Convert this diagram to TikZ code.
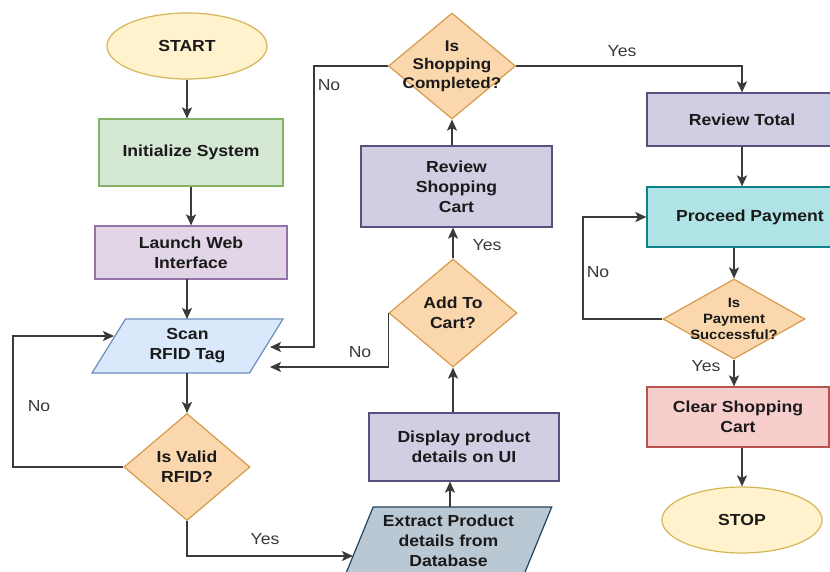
\documentclass[tikz,border=0pt]{standalone}
\usepackage{fontspec}
\setmainfont[FakeStretch=1.1]{Liberation Sans}
\usetikzlibrary{shapes.geometric,arrows.meta}
\definecolor{txt}{HTML}{1A1A1A}
\definecolor{lbl}{HTML}{3A3A3A}
\definecolor{ln}{HTML}{3A3A3A}
\definecolor{yelF}{HTML}{FFF2CC}\definecolor{yelD}{HTML}{D6B656}
\definecolor{grnF}{HTML}{D5E8D4}\definecolor{grnD}{HTML}{82B366}
\definecolor{pinF}{HTML}{E1D5E7}\definecolor{pinD}{HTML}{9673A6}
\definecolor{bluF}{HTML}{DAE8FC}\definecolor{bluD}{HTML}{6C8EBF}
\definecolor{orgF}{HTML}{FAD7AC}\definecolor{orgD}{HTML}{D79B4A}
\definecolor{purF}{HTML}{D0CEE2}\definecolor{purD}{HTML}{56517E}
\definecolor{cyaF}{HTML}{B0E3E6}\definecolor{cyaD}{HTML}{0E8088}
\definecolor{redF}{HTML}{F8CECC}\definecolor{redD}{HTML}{B85450}
\definecolor{gryF}{HTML}{BAC8D3}\definecolor{gryD}{HTML}{23445D}
\tikzset{
  base/.style={line width=1.2pt, text=txt, align=center, inner sep=0pt,
    font=\fontsize{16}{20}\selectfont\bfseries},
  term/.style={base, ellipse, fill=yelF, draw=yelD, minimum width=160, minimum height=66},
  box/.style={base, rectangle},
  para/.style={base, trapezium, trapezium stretches=true},
  dia/.style={base, diamond, fill=orgF, draw=orgD},
  arr/.style={line width=1.4pt, draw=ln, -{Stealth[length=11pt,width=10pt,inset=2.5pt]}},
  lab/.style={text=lbl, font=\fontsize{16}{19}\selectfont, inner sep=0pt}
}
\begin{document}
\begin{tikzpicture}[x=1pt,y=-1pt]
\useasboundingbox[fill=white] (0,0) rectangle (830,571);
% nodes
\node[term] (start) at (187,46) {START};
\node[box, fill=grnF, draw=grnD, minimum width=184, minimum height=67] (init) at (191,152.5) {Initialize System};
\node[box, fill=pinF, draw=pinD, minimum width=192, minimum height=53] (web) at (191,252.5) {Launch Web\\Interface};
\node[para, fill=bluF, draw=bluD, minimum width=191, minimum height=54,
  trapezium left angle=59.3, trapezium right angle=120.7] (scan) at (187.5,346) {Scan\\RFID Tag};
\node[dia, minimum width=126, minimum height=107,
  label={[base, font=\fontsize{16}{20}\selectfont\bfseries, text=txt]center:{Is Valid\\RFID?}}] (valid) at (187,467) {};
\node[para, fill=gryF, draw=gryD, minimum width=207, minimum height=68,
  trapezium left angle=64.9, trapezium right angle=115.1] (ext) at (448.5,541) {Extract Product\\details from\\Database};
\node[box, fill=purF, draw=purD, minimum width=190, minimum height=68] (disp) at (464,447) {Display product\\details on UI};
\node[dia, minimum width=128, minimum height=108,
  label={[base, font=\fontsize{16}{20}\selectfont\bfseries, text=txt]center:{Add To\\Cart?}}] (add) at (453,313) {};
\node[box, fill=purF, draw=purD, minimum width=191, minimum height=81] (rsc) at (456.5,186.5) {Review\\Shopping\\Cart};
\node[dia, minimum width=127, minimum height=106,
  label={[base, font=\fontsize{15.5}{18.5}\selectfont\bfseries, text=txt]center:{Is\\Shopping\\Completed?}}] (isc) at (452,66) {};
\node[box, fill=purF, draw=purD, minimum width=190, minimum height=53] (rt) at (742,119.5) {Review Total};
\node[box, fill=cyaF, draw=cyaD, minimum width=206, minimum height=60] (pp) at (750,217) {Proceed Payment};
\node[dia, minimum width=142, minimum height=80,
  label={[base, font=\fontsize{13.5}{16}\selectfont\bfseries, text=txt]center:{Is\\Payment\\Successful?}}] (pay) at (734,319) {};
\node[box, fill=redF, draw=redD, minimum width=182, minimum height=60] (clr) at (738,417) {Clear Shopping\\Cart};
\node[term] (stop) at (742,520) {STOP};
% helper coordinates
\coordinate (vL) at (13,467);
\coordinate (vT) at (13,336);
\coordinate (scanL) at (114,336);
\coordinate (webB) at (187,279);
\coordinate (scanT) at (187,319);
\coordinate (scanB) at (187,373);
\coordinate (scanR1) at (270,347);
\coordinate (scanR2) at (270,367);
\coordinate (yb) at (187,556);
\coordinate (extL) at (353,556);
\coordinate (extT) at (450,507);
\coordinate (noC) at (314,66);
\coordinate (yesC) at (742,66);
\coordinate (noP) at (583,319);
\coordinate (noPT) at (583,217);
% connectors
\draw[arr] (start) -- (start |- init.north);
\draw[arr] (init.south) -- (init.south |- web.north);
\draw[arr] (webB) -- (scanT);
\draw[arr] (scanB) -- (valid.north);
\draw[arr] (valid.west) -- (vL) -- (vT) -- (scanL);
\draw[arr] (valid.south) -- (yb) -- (extL);
\draw[arr] (extT) -- (extT |- disp.south);
\draw[arr] (add.south |- disp.north) -- (add.south);
\draw[arr] (add.north) -- (add.north |- rsc.south);
\draw[arr] (isc.south |- rsc.north) -- (isc.south);
\draw[arr] (add.west) -- (add.west |- scanR2) -- (scanR2);
\draw[arr] (isc.west) -- (noC) -- (noC |- scanR1) -- (scanR1);
\draw[arr] (isc.east) -- (yesC) -- (yesC |- rt.north);
\draw[arr] (rt.south) -- (rt.south |- pp.north);
\draw[arr] (pay.north |- pp.south) -- (pay.north);
\draw[arr] (pay.west) -- (noP) -- (noPT) -- (pp.west);
\draw[arr] (pay.south) -- (pay.south |- clr.north);
\draw[arr] (stop.north |- clr.south) -- (stop.north);
% labels
\node[lab] (l1) at (39,406) {No};
\node[lab] (l2) at (265,539) {Yes};
\node[lab] (l3) at (360,352) {No};
\node[lab] (l4) at (487,245) {Yes};
\node[lab] (l5) at (329,85) {No};
\node[lab] (l6) at (622,51) {Yes};
\node[lab] (l7) at (598,272) {No};
\node[lab] (l8) at (706,366) {Yes};
\end{tikzpicture}
\end{document}
